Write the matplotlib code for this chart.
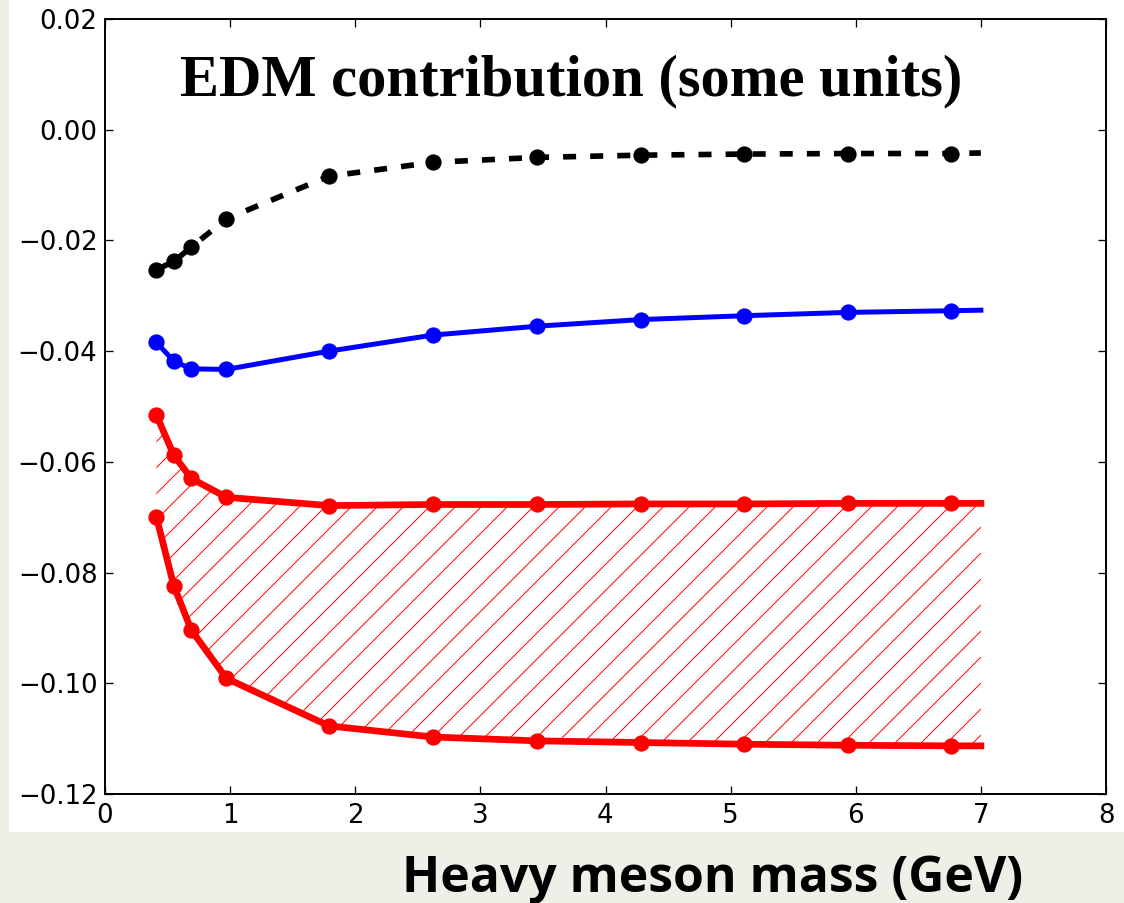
import numpy as np
import matplotlib
matplotlib.use("Agg")
import matplotlib.pyplot as plt
from matplotlib.patches import Rectangle
from matplotlib.ticker import FixedLocator, FixedFormatter

# ---- data -------------------------------------------------------------
mass = [0.41, 0.55, 0.69, 0.97, 1.79, 2.62, 3.45, 4.28, 5.11, 5.94, 6.76]
mass_end = 7.0

edm_dashed = [-0.0253, -0.0238, -0.0212, -0.0161, -0.0084, -0.0059,
              -0.0050, -0.0046, -0.0044, -0.0043, -0.0043]
edm_dashed_end = -0.0042

edm_blue = [-0.0384, -0.0418, -0.0432, -0.0433, -0.0400, -0.0371,
            -0.0355, -0.0343, -0.0336, -0.0330, -0.0327]
edm_blue_end = -0.0326

edm_red_upper = [-0.0515, -0.0588, -0.0630, -0.0664, -0.0679, -0.0677,
                 -0.0677, -0.0676, -0.0676, -0.0675, -0.0675]
edm_red_upper_end = -0.0675

edm_red_lower = [-0.0699, -0.0824, -0.0904, -0.0991, -0.1077, -0.1097,
                 -0.1104, -0.1107, -0.1110, -0.1112, -0.1113]
edm_red_lower_end = -0.1113

x_ticks = [0, 1, 2, 3, 4, 5, 6, 7, 8]
x_tick_labels = ["0", "1", "2", "3", "4", "5", "6", "7", "8"]
y_ticks = [-0.12, -0.10, -0.08, -0.06, -0.04, -0.02, 0.00, 0.02]
y_tick_labels = ["\u22120.12", "\u22120.10", "\u22120.08", "\u22120.06",
                 "\u22120.04", "\u22120.02", "0.00", "0.02"]

title_text = "EDM contribution (some units)"
xlabel_text = "Heavy meson mass (GeV)"

# ---- figure -----------------------------------------------------------
DPI = 156
W, H = 1124, 903
plt.rcParams["lines.scale_dashes"] = False
plt.rcParams["hatch.linewidth"] = 0.45

fig = plt.figure(figsize=(W / DPI, H / DPI), dpi=DPI, facecolor="#efeee7")

# white panel behind the plot
fig.patches.append(Rectangle((9 / W, (H - 832) / H), 1115 / W, 832 / H,
                             transform=fig.transFigure, facecolor="white",
                             edgecolor="none", zorder=-10))

ax = fig.add_axes([105 / W, (H - 794) / H, (1106 - 105) / W, (794 - 19) / H])
ax.set_facecolor("white")
ax.set_zorder(5)

def with_end(vals, end):
    return list(vals) + [end]

xs = with_end(mass, mass_end)

# hatched band between the two red curves
ax.fill_between(xs, with_end(edm_red_lower, edm_red_lower_end),
                with_end(edm_red_upper, edm_red_upper_end),
                facecolor="none", edgecolor="red", hatch="//", linewidth=0)

ax.plot(xs, with_end(edm_dashed, edm_dashed_end), color="black", lw=2.6,
        dashes=(6.0, 6.5), solid_capstyle="butt", dash_capstyle="butt")
ax.plot(mass, edm_dashed, "o", color="black", ms=6.5)

ax.plot(xs, with_end(edm_blue, edm_blue_end), color="blue", lw=2.3)
ax.plot(mass, edm_blue, "o", color="blue", ms=6.5)

ax.plot(xs, with_end(edm_red_upper, edm_red_upper_end), color="red", lw=3.1)
ax.plot(mass, edm_red_upper, "o", color="red", ms=6.5)

ax.plot(xs, with_end(edm_red_lower, edm_red_lower_end), color="red", lw=3.1)
ax.plot(mass, edm_red_lower, "o", color="red", ms=6.5)

ax.set_xlim(0, 8)
ax.set_ylim(-0.12, 0.02)
ax.xaxis.set_major_locator(FixedLocator(x_ticks))
ax.xaxis.set_major_formatter(FixedFormatter(x_tick_labels))
ax.yaxis.set_major_locator(FixedLocator(y_ticks))
ax.yaxis.set_major_formatter(FixedFormatter(y_tick_labels))
ax.tick_params(direction="in", top=True, right=True, length=3.7, width=0.6,
               labelsize=12, colors="black")
ax.tick_params(axis="x", pad=4)
ax.tick_params(axis="y", pad=3.5)
for s in ax.spines.values():
    s.set_linewidth(0.9)

ax.text(0.466, 0.902, title_text, transform=ax.transAxes, ha="center",
        va="baseline", fontsize=27, fontweight="bold",
        family="Liberation Serif")

fig.text(712.5 / W, 11 / H, xlabel_text, ha="center", va="baseline",
         fontsize=23, fontweight="bold", family="Open Sans")

fig.savefig("out.png", dpi=DPI, facecolor=fig.get_facecolor())
